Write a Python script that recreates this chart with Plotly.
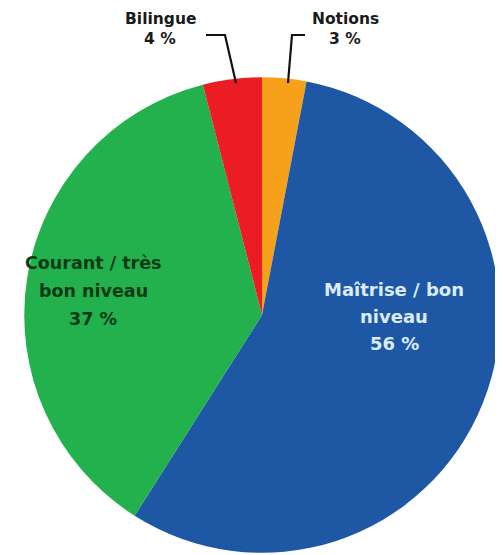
import plotly.graph_objects as go

# ---- data ----
categories = ["Notions", "Maîtrise / bon niveau", "Courant / très bon niveau", "Bilingue"]
label_lines = [["Notions"], ["Maîtrise / bon", "niveau"], ["Courant / très", "bon niveau"], ["Bilingue"]]
values = [3, 56, 37, 4]
colors = ["#F7A11A", "#1E58A4", "#22B14C", "#EC1C24"]

W, H = 503, 555

fig = go.Figure(go.Pie(
    labels=categories,
    values=values,
    sort=False,
    direction="clockwise",
    rotation=0,
    textinfo="none",
    hoverinfo="label+percent",
    marker=dict(colors=colors, line=dict(width=0)),
    domain=dict(x=[0.032, 0.978], y=[0.0184, 0.8752]),
))

def px(x):
    return x / W

def py(y):
    return 1 - y / H

# label placement (pixel centres of first line) and styles
label_pos = [(337, 11), (386, 281), (85, 255), (152, 11)]
label_color = ["#1a1a1a", "#DCEBFA", "#0B3A17", "#1a1a1a"]
line_gap = [20, 27, 28, 20]
label_size = [15.5, 18, 17.5, 15.5]

annotations = []
for lines, v, (x0, y0), c, g, s in zip(label_lines, values, label_pos, label_color, line_gap, label_size):
    all_lines = lines + [f"{v} %"]
    for i, t in enumerate(all_lines):
        annotations.append(dict(
            x=px(x0), y=py(y0 + i * g), xref="paper", yref="paper",
            text=t, showarrow=False, xanchor="center", yanchor="middle",
            font=dict(family="DejaVu Sans", size=s, color=c, weight="bold"),
        ))

# leader lines for the outside labels
shapes = [
    dict(type="path", xref="paper", yref="paper",
         path=f"M {px(198)} {py(27)} L {px(217)} {py(27)} L {px(228)} {py(75)}",
         line=dict(color="#111111", width=2.2)),
    dict(type="path", xref="paper", yref="paper",
         path=f"M {px(297)} {py(27)} L {px(284)} {py(27)} L {px(280)} {py(75)}",
         line=dict(color="#111111", width=2.2)),
]

fig.update_layout(
    width=W, height=H,
    margin=dict(l=0, r=0, t=0, b=0),
    paper_bgcolor="white", plot_bgcolor="white",
    showlegend=False,
    annotations=annotations,
    shapes=shapes,
)

fig.write_html("out.html")
